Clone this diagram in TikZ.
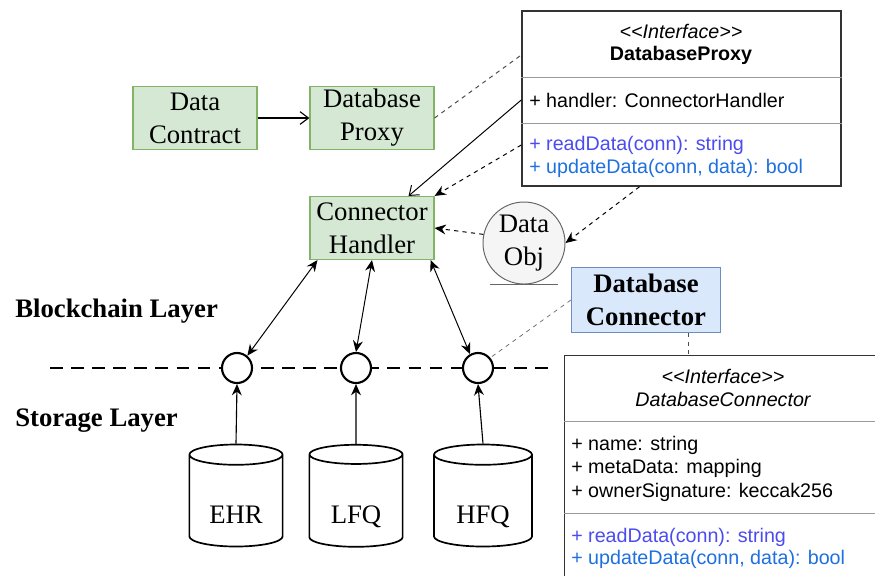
\documentclass[tikz,border=0pt]{standalone}
\usepackage{fontspec}
\setmainfont{Liberation Serif}
\setsansfont{Liberation Sans}
\usetikzlibrary{arrows.meta,shapes.geometric}
\definecolor{boxgreen}{HTML}{D5E8D4}
\definecolor{linegreen}{HTML}{82B366}
\definecolor{boxblue}{HTML}{DAE8FC}
\definecolor{lineblue}{HTML}{6C8EBF}
\definecolor{objfill}{HTML}{F5F5F5}
\definecolor{objline}{HTML}{666666}
\definecolor{readblue}{HTML}{4B4BF0}
\definecolor{updblue}{HTML}{1E6FE0}
\newcommand{\stereo}{<\kern0pt<Interface>\kern0pt>}

\begin{document}
\begin{tikzpicture}[x=0.025cm,y=-0.025cm,
  serif/.style={font=\fontsize{19}{23.4}\selectfont},
  boldserif/.style={font=\fontsize{19}{23.4}\selectfont\bfseries},
  greenbox/.style={serif, draw=linegreen, fill=boxgreen, line width=0.8pt,
    minimum width=3.1cm, minimum height=1.575cm, inner sep=0pt, align=center},
  umlbox/.style={draw=black!80, line width=1pt, fill=white, inner sep=0pt},
  umltext/.style={font=\sffamily\fontsize{14}{16}\selectfont, inner sep=0pt},
  umlital/.style={font=\sffamily\itshape\fontsize{14}{16}\selectfont, inner sep=0pt},
  port/.style={circle, draw, line width=1.5pt, fill=white, minimum size=0.75cm, inner sep=0pt},
  store/.style={serif, cylinder, shape border rotate=90, draw, line width=1.2pt, aspect=0.38,
    minimum height=2.55cm, minimum width=2.33cm, inner sep=0pt, text height=32pt, text depth=0pt},
  tip/.style={-{Stealth[length=8pt,width=7pt]}},
  opentip/.style={-{Straight Barb[length=6pt,width=9pt]}},
  both/.style={{Stealth[length=8pt,width=7pt]}-{Stealth[length=8pt,width=7pt]}},
  dashlink/.style={dashed, line width=0.7pt}
]
\useasboundingbox (0,0) rectangle (875,575);
\clip (0,0) rectangle (875,575);

% boxes on top
\node (dc) [greenbox] at (195,118) {Data\\Contract};
\node (dp) [greenbox] at (372,118) {Database\\Proxy};
\node (ch) [greenbox] at (372,228) {Connector\\Handler};
\node (obj) [serif, circle, draw=objline, fill=objfill, line width=0.7pt, minimum size=2.05cm,
  inner sep=0pt, align=center] at (524,243) {Data\\Obj};
\node (conn) [boldserif, draw=lineblue, fill=boxblue, line width=0.8pt, minimum width=3.725cm,
  minimum height=1.625cm, inner sep=0pt, align=center] at (646,300) {Database\\Connector};

% DatabaseProxy class
\node (proxy) [umlbox, minimum width=7.975cm, minimum height=4.375cm] at (681.5,98.5) {};
\draw [black!40, line width=0.6pt] (proxy.west |- 0,77) -- (proxy.east |- 0,77);
\draw [black!40, line width=0.6pt] (proxy.west |- 0,123) -- (proxy.east |- 0,123);
\node (pstereo) [umlital] at (681,31) {\stereo};
\node (pname) [umltext, font=\sffamily\bfseries\fontsize{14}{16}\selectfont] at (681,55) {DatabaseProxy};
\node (phandler) [umltext, anchor=west] at (529,100) {+ handler: ConnectorHandler};
\node (pread) [umltext, anchor=west, text=readblue] at (529,145) {+ readData(conn): string};
\node (pupd) [umltext, anchor=west, text=updblue] at (529,168) {+ updateData(conn, data): bool};

% DatabaseConnector class
\node (dbc) [umlbox, minimum width=8cm, minimum height=6cm, anchor=north west] at (564,355) {};
\draw [black!40, line width=0.6pt] (dbc.west |- 0,421) -- (dbc.east |- 0,421);
\draw [black!40, line width=0.6pt] (dbc.west |- 0,513) -- (dbc.east |- 0,513);
\node (cstereo) [umlital] at (723,376) {\stereo};
\node (cname) [umlital] at (723,399) {DatabaseConnector};
\node (cattr1) [umltext, anchor=west] at (571,445) {+ name: string};
\node (cattr2) [umltext, anchor=west] at (571,468) {+ metaData: mapping};
\node (cattr3) [umltext, anchor=west] at (571,492) {+ ownerSignature: keccak256};
\node (cread) [umltext, anchor=west, text=readblue] at (571,537) {+ readData(conn): string};
\node (cupd) [umltext, anchor=west, text=updblue] at (571,559) {+ updateData(conn, data): bool};

% layers
\node (bclayer) [boldserif, anchor=west, inner sep=0pt] at (15,311) {Blockchain Layer};
\node (stlayer) [boldserif, anchor=west, inner sep=0pt] at (15,421) {Storage Layer};
\coordinate (lstart) at (50,368);
\coordinate (lend) at (556,368);
\draw [dashed, line width=1.6pt, dash pattern=on 9pt off 6pt] (lstart) -- (lend);
\node (c1) [port] at (237,368) {};
\node (c2) [port] at (356,368) {};
\node (c3) [port] at (478,368) {};

% storages
\node (ehr) [store] at (236,501) {EHR};
\node (lfq) [store] at (356,501) {LFQ};
\node (hfq) [store, minimum width=2.45cm] at (483,501) {HFQ};

% connectors
\draw [opentip, line width=0.8pt] (dc.east) -- (dp.west);
\draw [dashlink, black!70] (dp.east) -- (proxy.west |- pname);
\draw [opentip, line width=0.7pt] (proxy.west |- phandler) -- ([xshift=-0.65cm]ch.north east);
\draw [tip, dashlink] (proxy.west |- pread) -- (ch.north east);
\draw [tip, dashlink] ([xshift=-1.05cm]proxy.south) -- (obj.east);
\draw [tip, dashlink] (obj.168) -- (ch.east);
\draw [both, line width=0.7pt] ([xshift=0.2cm]ch.south west) -- (c1.50);
\draw [both, line width=0.7pt] (ch.south) -- (c2.north);
\draw [both, line width=0.7pt] ([xshift=-0.1cm]ch.south east) -- (c3.120);
\draw [tip, line width=0.8pt] (ehr.north) -- (c1.south);
\draw [tip, line width=0.8pt] (lfq.north) -- (c2.south);
\draw [tip, line width=0.8pt] (hfq.north) -- (c3.south);
\draw [dashlink, black!60, line width=0.5pt] (conn.west) -- (c3.40);
\coordinate (cjoin) at (688,355);
\draw [dashlink, black!70] (cjoin |- conn.south) -- (cjoin);
\draw [objline, line width=1pt] ([xshift=-0.85cm]obj.south) -- ([xshift=0.85cm]obj.south);
\end{tikzpicture}
\end{document}
